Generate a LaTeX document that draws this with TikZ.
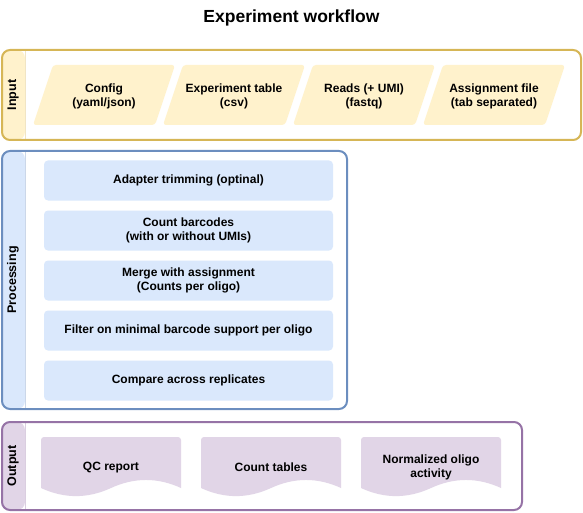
\documentclass[tikz,border=0pt]{standalone}
\usepackage{fontspec}
\setmainfont{Liberation Sans}

\definecolor{indraw}{HTML}{D6B656}
\definecolor{infill}{HTML}{FFF2CC}
\definecolor{procdraw}{HTML}{6C8EBF}
\definecolor{procfill}{HTML}{DAE8FC}
\definecolor{outdraw}{HTML}{9673A6}
\definecolor{outfill}{HTML}{E1D5E7}

\tikzset{
  lane/.style 2 args={draw=#1, fill=white, line width=2pt, rounded corners=8pt,
    outer sep=0pt, inner sep=0pt,
    path picture={
      \fill[#2] (path picture bounding box.north west) rectangle ([xshift=23pt]path picture bounding box.south west);
      \draw[#1!35, line width=0.8pt] ([xshift=23pt]path picture bounding box.north west) -- ([xshift=23pt]path picture bounding box.south west);
    }},
  lanelabel/.style={rotate=90, font=\fontsize{12.5}{14}\selectfont\bfseries},
  source/.style={align=center, font=\fontsize{12}{14}\selectfont\bfseries},
  stage/.style={fill=procfill, rounded corners=4pt, minimum width=289pt, minimum height=40pt,
    align=center, font=\fontsize{12}{14}\selectfont\bfseries},
  result/.style={align=center, font=\fontsize{12}{14}\selectfont\bfseries}
}

\begin{document}
\begin{tikzpicture}[x=1pt,y=-1pt]
   \useasboundingbox (0,0) rectangle (583,513);
   \node[font=\fontsize{17.5}{20}\selectfont\bfseries] (title) at (291.5,17.5) {Experiment workflow};

   % input
   \node[lane={indraw}{infill}, minimum width=579pt, minimum height=90pt] (input) at (291.5,95) {};
   \node[lanelabel] (inputlabel) at (13,95) {Input};
   \foreach \x in {104,234,364,494}
      \fill[infill, rounded corners=3pt] (\x-71,125) -- (\x-51,65) -- (\x+71,65) -- (\x+51,125) -- cycle;
   \node[source] (config) at (104,96.5) {Config\\(yaml/json)};
   \node[source] (exptable) at (234,96.5) {Experiment table\\(csv)};
   \node[source] (reads) at (364,96.5) {Reads (+ UMI)\\(fastq)};
   \node[source] (assignment) at (494,96.5) {Assignment file\\(tab separated)};

   % processing
   \node[lane={procdraw}{procfill}, minimum width=345pt, minimum height=258pt] (processing) at (174.5,280) {};
   \node[lanelabel] (processinglabel) at (13,280) {Processing};
   \node[stage] (trimming) at (188.5,180.5) {Adapter trimming (optinal)};
   \node[stage] (counting) at (188.5,230.5) {Count barcodes\\(with or without UMIs)};
   \node[stage] (merging) at (188.5,280.5) {Merge with assignment\\(Counts per oligo)};
   \node[stage] (filtering) at (188.5,330.5) {Filter on minimal barcode support per oligo};
   \node[stage] (comparing) at (188.5,380.5) {Compare across replicates};

   % output
   \node[lane={outdraw}{outfill}, minimum width=520pt, minimum height=88pt] (output) at (262,466) {};
   \node[lanelabel] (outputlabel) at (13,466) {Output};
   \foreach \x in {111,271,431}
      \fill[outfill] (\x-70,488) [rounded corners=3pt] -- (\x-70,437) -- (\x+70,437) [sharp corners] -- (\x+70,488)
         .. controls (\x+46.7,477.3) and (\x+23.3,477.3) .. (\x,488)
         .. controls (\x-23.3,498.8) and (\x-46.7,498.8) .. (\x-70,488) -- cycle;
   \node[result] (qcreport) at (111,467.5) {QC report};
   \node[result] (counttables) at (271,467.5) {Count tables};
   \node[result] (activity) at (431,467.5) {Normalized oligo\\activity};
\end{tikzpicture}
\end{document}
